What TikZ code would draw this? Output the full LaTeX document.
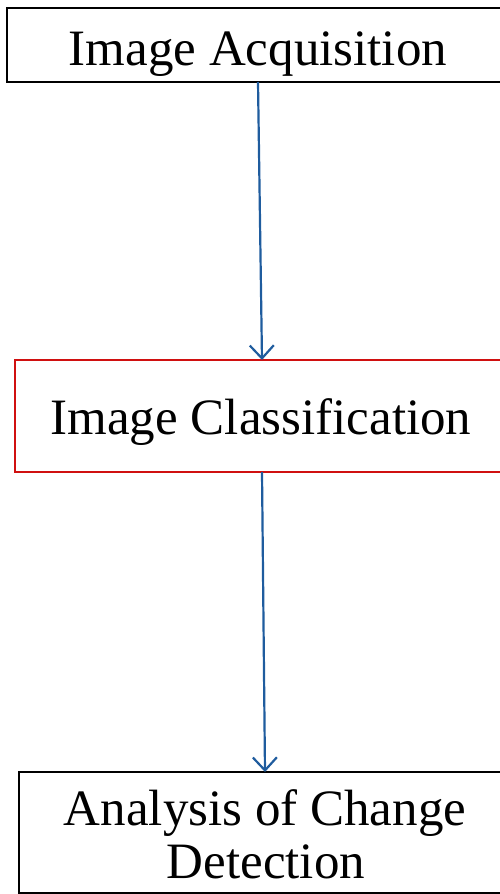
\documentclass[tikz,border=0pt]{standalone}
\usepackage{fontspec}
\setmainfont{Liberation Serif}
\usetikzlibrary{arrows.meta}
\definecolor{arrowblue}{HTML}{1F5C9E}
\definecolor{boxred}{HTML}{D01010}
\tikzset{
  box/.style={draw=black, line width=1.3pt},
  redbox/.style={draw=boxred, line width=1.3pt},
  lbl/.style={font=\fontsize{51}{56}\selectfont, inner sep=0pt, anchor=base},
  flow/.style={draw=arrowblue, line width=2.2pt, -{Straight Barb[length=13pt,width=24pt,line width=2.2pt]}}
}
\begin{document}
\begin{tikzpicture}[x=1pt,y=-1pt]
\useasboundingbox (0,0) rectangle (500,894);
\begin{scope}
\clip (0,0) rectangle (500,894);
\draw[box] (7,8) rectangle (510,82);
\draw[redbox] (15,360) rectangle (510,472);
\draw[box] (19,772) rectangle (510,893);
\end{scope}
\coordinate (a1) at (258,82);
\coordinate (b1) at (262,360);
\coordinate (a2) at (262,472);
\coordinate (b2) at (265,772);
\node[lbl] (t1) at (258,65) {Image Acquisition};
\node[lbl] (t2) at (261,434) {Image Classification};
\node[lbl] (t3) at (265,825) {Analysis of Change};
\node[lbl] (t4) at (266,878) {Detection};
\draw[flow] (a1) -- (b1);
\draw[flow] (a2) -- (b2);
\end{tikzpicture}
\end{document}
